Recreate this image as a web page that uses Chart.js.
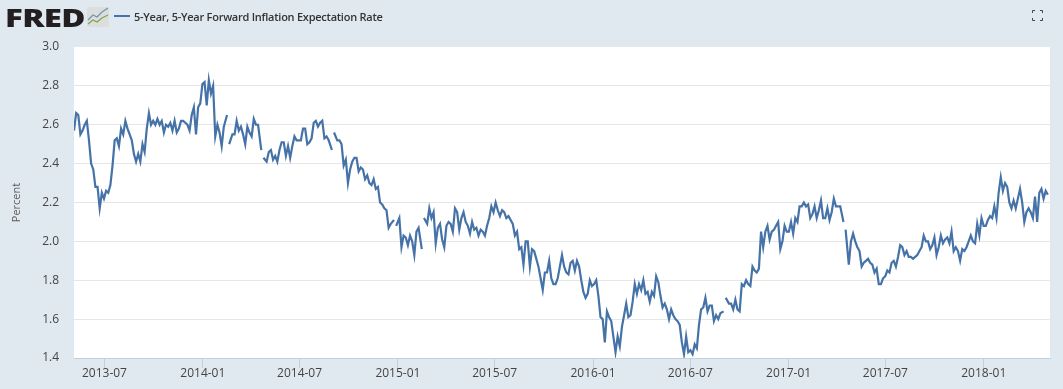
<!DOCTYPE html>
<html>
<head>
<meta charset="utf-8">
<title>5-Year, 5-Year Forward Inflation Expectation Rate</title>
<script src="https://cdn.jsdelivr.net/npm/chart.js@4/dist/chart.umd.min.js"></script>
<style>
  html, body { margin: 0; padding: 0; background: #e1e9f0; overflow: hidden; }
  #wrap { position: relative; width: 1063px; height: 389px; font-family: "Open Sans", sans-serif; }
  canvas { position: absolute; left: 0; top: 0; }
  #logo { position: absolute; left: 5px; top: 0px; font: 800 25px/34px "Open Sans", sans-serif; letter-spacing: -0.5px; color: #231f20; transform: scaleX(1.32); transform-origin: left top; }
  #icon { position: absolute; left: 87px; top: 7px; }
  #legendLine { position: absolute; left: 114px; top: 15px; width: 16px; height: 2px; background: #4572a7; }
  #legendText { position: absolute; left: 134px; top: 8px; font: 600 11px/17px "Open Sans", sans-serif; letter-spacing: -0.25px; color: #333; }
  #expand { position: absolute; left: 1032px; top: 10px; }
</style>
</head>
<body>
<div id="wrap">
  <canvas id="chart" width="1063" height="389"></canvas>
  <div id="logo">FRED</div>
  <svg id="icon" width="22" height="20" viewBox="0 0 22 20">
    <rect width="22" height="20" rx="2" fill="#dcdedb"/>
    <polyline points="1,13 6,8 10,10 15,5 21,1" fill="none" stroke="#6f93b5" stroke-width="1.2"/>
    <polyline points="1,17 6,13 10,15 15,11 21,8" fill="none" stroke="#7fa34f" stroke-width="1.2"/>
  </svg>
  <div id="legendLine"></div>
  <div id="legendText">5-Year, 5-Year Forward Inflation Expectation Rate</div>
  <svg id="expand" width="11" height="11" viewBox="0 0 11 11" fill="none" stroke="#444" stroke-width="1">
    <path d="M0.5 3V0.5H3M8 0.5H10.5V3M10.5 8V10.5H8M3 10.5H0.5V8"/>
  </svg>
</div>
<script>
const seriesName = '5-Year, 5-Year Forward Inflation Expectation Rate';
const startDate = '2013-05-05';
const endDate = '2018-05-05';
const tickLabels = ['2013-07', '2014-01', '2014-07', '2015-01', '2015-07', '2016-01', '2016-07', '2017-01', '2017-07', '2018-01'];
const yTicks = [1.4, 1.6, 1.8, 2.0, 2.2, 2.4, 2.6, 2.8, 3.0];

// values, one array per stretch of about 228 days, null = no data
const values1 = [2.57,2.66,2.65,2.55,2.57,2.60,2.62,2.52,2.40,2.37,2.28,2.28,2.17,2.25,2.22,2.26,2.25,2.29,2.39,2.52,2.53,2.49,2.58,2.55,2.62,2.58,2.55,2.52,2.45,2.41,2.45,2.41,2.50,2.46,2.58,2.66,2.60,2.62,2.60,2.63,2.60,2.62,2.56,2.60,2.59,2.61,2.57,2.62,2.56,2.58,2.62,2.62,2.61,2.60,2.57,2.65,2.69];
const values2 = [2.55,2.69,2.71,2.81,2.82,2.70,2.83,2.76,2.80,2.54,2.60,2.56,2.49,2.59,2.65,null,2.50,2.55,2.55,2.62,2.57,2.59,2.55,2.50,2.59,2.56,2.54,2.63,2.60,2.60,2.47,null,2.43,2.41,2.46,2.47,2.42,2.44,2.41,2.47,2.51,2.51,2.44,2.49,2.43,2.49,2.54,2.52,2.52,2.52,2.58,2.58,2.50,2.51,2.53,2.61,2.62];
const values3 = [2.59,2.61,2.62,2.53,2.54,2.52,2.47,null,2.56,2.52,2.52,2.50,2.39,2.42,2.30,2.37,2.41,2.43,2.43,2.36,2.38,2.37,2.32,2.34,2.30,2.29,2.32,2.27,2.28,2.20,2.19,2.17,2.16,2.07,2.09,2.11,null,2.08,2.12,1.97,2.03,2.02,1.98,2.03,2.00,1.93,2.05,2.07,1.96,null,2.12,2.09,2.17,2.12,2.15,1.99,2.07];
const values4 = [2.09,2.01,1.97,2.08,2.10,2.09,2.05,2.17,2.15,2.06,2.12,2.15,2.10,2.08,2.04,2.10,2.06,2.07,2.03,2.06,2.05,2.03,2.08,2.12,2.18,2.15,2.20,2.16,2.13,2.16,2.15,2.12,2.13,2.11,2.09,2.03,2.05,1.96,1.97,1.88,2.00,2.00,1.87,1.96,1.95,1.91,1.87,1.81,1.75,1.84,1.84,1.90,1.81,1.78,1.78,1.81,1.87];
const values5 = [1.93,1.87,1.84,1.83,1.89,1.90,1.85,1.90,1.87,1.80,1.74,1.71,1.73,1.80,1.77,1.78,1.80,1.72,1.61,1.60,1.48,1.64,1.61,1.59,1.51,1.43,1.51,1.46,1.56,1.62,1.68,1.61,1.62,1.69,1.78,1.73,1.78,1.75,1.80,1.73,1.74,1.69,1.74,1.72,1.82,1.79,1.72,1.66,1.68,1.65,1.60,1.65,1.62,1.60,1.59,1.57,1.48];
const values6 = [1.42,1.51,1.43,1.44,1.42,1.47,1.45,1.57,1.65,1.66,1.71,1.64,1.67,1.67,1.59,1.62,1.60,1.63,1.64,null,1.71,1.68,1.68,1.65,1.70,1.65,1.64,1.78,1.77,1.80,1.78,1.77,1.87,1.85,1.84,1.86,2.05,1.97,2.05,2.08,2.01,2.05,2.06,2.08,2.10,1.96,2.00,2.08,2.05,2.05,2.10,2.04,2.12,2.10,2.18,2.18,2.20];
const values7 = [2.18,2.19,2.12,2.14,2.18,2.12,2.16,2.21,2.12,2.12,2.17,2.11,2.15,2.22,2.18,2.18,2.18,2.10,null,2.06,1.88,2.00,2.04,2.00,1.97,1.95,1.87,1.89,1.90,1.91,1.89,1.88,1.84,1.86,1.78,1.78,1.81,1.82,1.85,1.84,1.89,1.90,1.87,1.92,1.98,1.97,1.93,1.95,1.92,1.92,1.91,1.92,1.93,1.95,1.97,2.03,2.00];
const values8 = [2.00,1.96,1.98,2.02,1.93,1.97,2.03,1.99,2.01,2.02,1.99,2.05,1.95,1.97,1.95,1.90,1.96,1.95,1.97,2.00,2.03,2.00,1.99,2.09,2.03,2.12,2.08,2.08,2.11,2.13,2.12,2.18,2.12,2.25,2.33,2.26,2.30,2.28,2.20,2.17,2.21,2.17,2.22,2.27,2.20,2.10,2.15,2.17,2.15,2.12,2.23,2.10,2.25,2.27,2.22,2.26,2.24];

const rateValues = [values1, values2, values3, values4, values5, values6, values7, values8].flat();

const xMin = Date.parse(startDate);
const xMax = Date.parse(endDate);
const stepMs = (xMax - xMin) / rateValues.length;
// the gaps in the original are only a day or two, so pull the neighbours of a null in a little
const points = rateValues.map((v, i) => {
  let pos = i;
  if (rateValues[i + 1] === null) pos = i + 0.5;
  if (rateValues[i - 1] === null) pos = i - 0.5;
  return { x: xMin + pos * stepMs, y: v };
});

const tickLabelOf = ms => new Date(ms).toISOString().slice(0, 7);

const plotBackground = {
  id: 'plotBackground',
  beforeDraw(chart) {
    const { ctx, chartArea } = chart;
    ctx.save();
    ctx.fillStyle = '#ffffff';
    ctx.fillRect(chartArea.left, chartArea.top, chartArea.width, chartArea.height);
    ctx.restore();
  }
};

new Chart(document.getElementById('chart').getContext('2d'), {
  type: 'line',
  plugins: [plotBackground],
  data: {
    datasets: [{
      label: seriesName,
      data: points,
      borderColor: '#4572a7',
      borderWidth: 2.2,
      pointRadius: 0,
      tension: 0,
      spanGaps: false
    }]
  },
  options: {
    responsive: false,
    animation: false,
    layout: { padding: { top: 47, right: 13, left: 0, bottom: 0 } },
    plugins: { legend: { display: false }, tooltip: { enabled: false } },
    scales: {
      x: {
        type: 'linear',
        min: xMin,
        max: xMax,
        afterBuildTicks: axis => {
          axis.ticks = tickLabels.map(t => ({ value: Date.parse(t + '-01') }));
        },
        afterFit: axis => { axis.height = 31; },
        border: { color: '#c0d0e0' },
        grid: { drawOnChartArea: false, color: '#c0d0e0', tickLength: 10 },
        ticks: {
          autoSkip: false,
          maxRotation: 0,
          padding: -2,
          color: '#444',
          font: { family: '"Open Sans"', size: 12 },
          callback: value => tickLabelOf(value)
        }
      },
      y: {
        min: 1.4,
        max: 3.0,
        afterBuildTicks: axis => {
          axis.ticks = yTicks.map(v => ({ value: v }));
        },
        afterFit: axis => { axis.width = 74; },
        border: { display: false },
        grid: {
          color: ctx => (ctx.tick && ctx.tick.value === 3.0 ? 'rgba(0,0,0,0)' : '#e6e6e6'),
          drawTicks: false
        },
        ticks: {
          padding: 15,
          color: '#444',
          font: { family: '"Open Sans"', size: 12 },
          callback: value => value.toFixed(1)
        },
        title: {
          display: true,
          text: 'Percent',
          color: '#595959',
          padding: { top: 10, bottom: 0 },
          font: { family: '"Open Sans"', size: 11 }
        }
      }
    }
  }
});
</script>
</body>
</html>
